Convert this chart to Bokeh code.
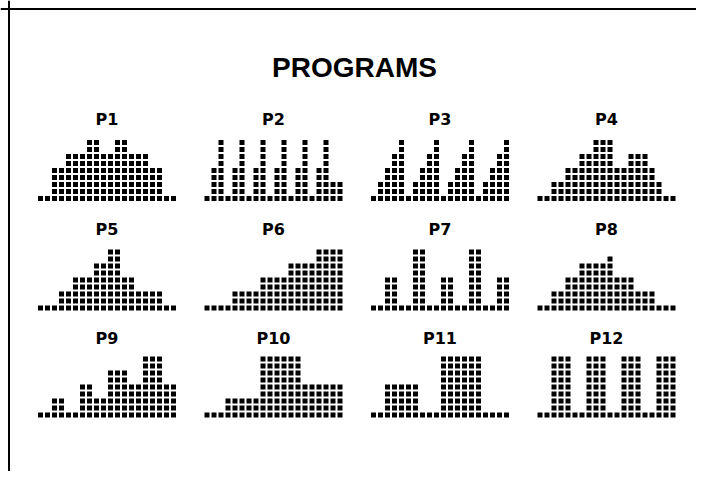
from bokeh.plotting import figure
from bokeh.models import ColumnDataSource, Range1d, Span
from bokeh.core.properties import value
from bokeh.embed import file_html
from bokeh.resources import INLINE

# ---- data ----
title = "PROGRAMS"
labels = ["P1", "P2", "P3", "P4", "P5", "P6", "P7", "P8", "P9", "P10", "P11", "P12"]
P1 = [1, 1, 5, 5, 7, 7, 7, 9, 9, 7, 7, 9, 9, 7, 7, 7, 5, 5, 1, 1]
P2 = [1, 5, 9, 1, 5, 9, 1, 5, 9, 1, 5, 9, 1, 5, 9, 1, 5, 9, 3, 3]
P3 = [1, 3, 5, 7, 9, 1, 3, 5, 7, 9, 1, 3, 5, 7, 9, 1, 3, 5, 7, 9]
P4 = [1, 1, 3, 3, 5, 5, 7, 7, 9, 9, 9, 5, 5, 7, 7, 7, 5, 3, 1, 1]
P5 = [1, 1, 1, 3, 3, 5, 5, 5, 7, 7, 9, 9, 5, 5, 3, 3, 3, 3, 1, 1]
P6 = [1, 1, 1, 1, 3, 3, 3, 3, 5, 5, 5, 5, 7, 7, 7, 7, 9, 9, 9, 9]
P7 = [1, 1, 5, 5, 1, 1, 9, 9, 1, 1, 5, 5, 1, 1, 9, 9, 1, 1, 5, 5]
P8 = [1, 1, 3, 3, 5, 5, 7, 7, 7, 7, 8, 5, 5, 5, 3, 3, 3, 1, 1, 1]
P9 = [1, 1, 3, 3, 1, 1, 5, 5, 3, 3, 7, 7, 7, 5, 5, 9, 9, 9, 5, 5]
P10 = [1, 1, 1, 3, 3, 3, 3, 3, 9, 9, 9, 9, 9, 9, 5, 5, 5, 5, 5, 5]
P11 = [1, 1, 5, 5, 5, 5, 5, 1, 1, 1, 9, 9, 9, 9, 9, 9, 1, 1, 1, 1]
P12 = [1, 1, 9, 9, 9, 1, 1, 9, 9, 9, 1, 1, 9, 9, 9, 1, 1, 9, 9, 9]
programs = [P1, P2, P3, P4, P5, P6, P7, P8, P9, P10, P11, P12]

# ---- layout (pixels) ----
W, H = 696, 471
PANEL_X0, PANEL_DX = 37.5, 166.5   # left edge of first column in canvas px
ROW_BOTTOM = [198.0, 307.5, 414.5]  # centre of bottom dot row
LABEL_Y = [119.0, 229.0, 338.0]
PITCH, DOT = 7.0, 5.0

p = figure(width=W, height=H, output_backend="svg", toolbar_location=None,
           x_range=Range1d(0, W), y_range=Range1d(H, 0), min_border=0,
           background_fill_color="white", border_fill_color="white")
p.axis.visible = False
p.grid.visible = False
p.outline_line_color = None

xs, ys = [], []
lx, ly = [], []
for k, heights in enumerate(programs):
    r, c = divmod(k, 4)
    left = PANEL_X0 + c * PANEL_DX
    bottom = ROW_BOTTOM[r]
    for i, h in enumerate(heights):
        for lvl in range(h):
            xs.append(left + i * PITCH + DOT / 2)
            ys.append(bottom - lvl * PITCH)
    lx.append(left + len(heights) * PITCH / 2 - 1)
    ly.append(LABEL_Y[r])

p.rect(x="x", y="y", width=DOT, height=DOT, source=ColumnDataSource(dict(x=xs, y=ys)),
       fill_color="black", line_color=None)

p.text(x="x", y="y", text="t", source=ColumnDataSource(dict(x=lx, y=ly, t=labels)),
       text_font=value("DejaVu Sans"), text_font_style="bold", text_font_size="16px",
       text_align="center", text_baseline="middle", text_color="black")

p.text(x=[354], y=[67], text=[title], text_font=value("Liberation Sans"),
       text_font_style="bold", text_font_size="28px", text_align="center",
       text_baseline="middle", text_color="black")

p.add_layout(Span(location=8.5, dimension="width", line_color="black", line_width=2))
p.add_layout(Span(location=8.5, dimension="height", line_color="black", line_width=2))

open("out.html", "w").write(file_html(p, INLINE))
